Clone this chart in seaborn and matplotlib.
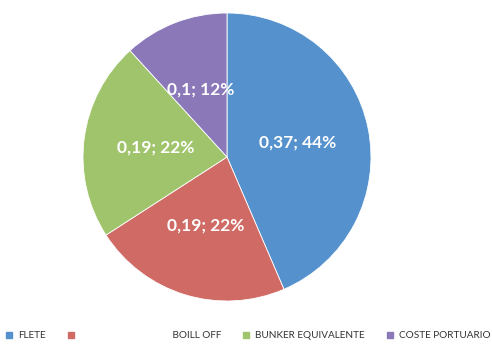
import matplotlib
matplotlib.use("Agg")
import matplotlib.pyplot as plt
import seaborn as sns
from matplotlib.lines import Line2D

categories = ["FLETE", " " * 37 + "BOILL OFF", "BUNKER EQUIVALENTE", "COSTE PORTUARIO"]
values = [0.37, 0.19, 0.19, 0.10]
colors = ["#5591CC", "#CF6A64", "#A0C46C", "#8A78B9"]

sns.set_theme(style="white")
plt.rcParams["font.family"] = ["Lato", "DejaVu Sans"]

W, H = 492, 347
fig = plt.figure(figsize=(W / 100, H / 100), dpi=100)
cx, cy, r = 227, 157, 144
ax = fig.add_axes([(cx - r) / W, (H - cy - r) / H, 2 * r / W, 2 * r / H])

total = sum(values)


def fmt(p):
    v = p * total / 100
    s = f"{v:.2f}".rstrip("0").rstrip(".").replace(".", ",")
    return f"{s}; {round(p):d}%"


wedges, texts, autotexts = ax.pie(
    values, colors=colors, startangle=90, counterclock=False,
    autopct=fmt, pctdistance=0.5, radius=1,
    wedgeprops=dict(linewidth=0.6, edgecolor="white"),
)
for t in autotexts:
    t.set_color("white")
    t.set_fontweight("bold")
    t.set_fontsize(12.5)
ax.set_xlim(-1, 1)
ax.set_ylim(-1, 1)
ax.set_aspect("equal")
ax.axis("off")

handles = [Line2D([], [], marker="s", linestyle="", color=c, markersize=4.5) for c in colors]
fig.legend(handles, categories, loc="center left", bbox_to_anchor=(5 / W, 11 / H),
           ncol=4, frameon=False, fontsize=7.2, handlelength=0.8, handletextpad=0.5,
           columnspacing=2.1, borderpad=0, borderaxespad=0, labelcolor="#333333")

fig.savefig("out.png", dpi=100)
